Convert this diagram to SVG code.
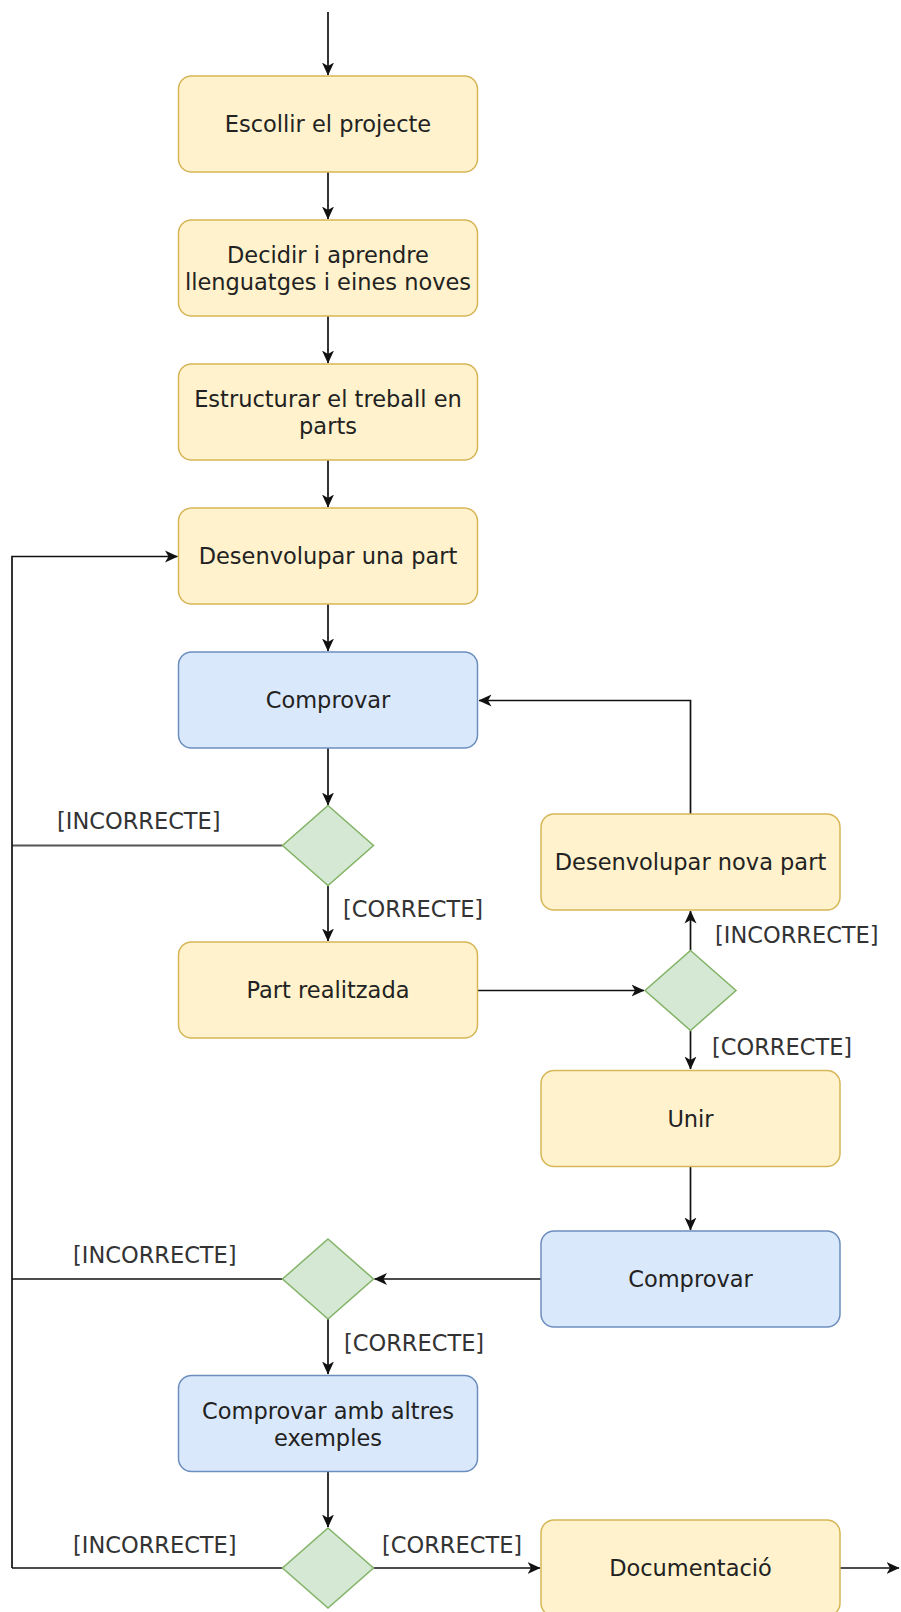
<svg xmlns="http://www.w3.org/2000/svg" width="901" height="1612" viewBox="0 0 901 1612">
<style>
.y{fill:#fff2cc;stroke:#d6b656;stroke-width:1.5}
.b{fill:#dae8fc;stroke:#6c8ebf;stroke-width:1.5}
.g{fill:#d5e8d4;stroke:#82b366;stroke-width:1.5}
.t{font-family:"DejaVu Sans",Verdana,sans-serif;font-size:22.5px;fill:#222;text-anchor:middle}
.l{font-family:"DejaVu Sans",Verdana,sans-serif;font-size:22.5px;fill:#333}
.c{fill:none;stroke:#111;stroke-width:1.7}
.c2{fill:none;stroke:#555;stroke-width:1.9}
</style>
<defs>
<marker id="a" viewBox="0 0 13 13" refX="12.5" refY="6.5" markerWidth="13" markerHeight="13" markerUnits="userSpaceOnUse" orient="auto">
<path d="M0,0.5 L13,6.5 L0,12.5 L3.5,6.5 Z" fill="#111"/>
</marker>
</defs>
<g id="connectors">
<path class="c" d="M328,12 V75" marker-end="url(#a)"/>
<path class="c" d="M328,172 V219" marker-end="url(#a)"/>
<path class="c" d="M328,316 V363" marker-end="url(#a)"/>
<path class="c" d="M328,460 V507" marker-end="url(#a)"/>
<path class="c" d="M328,604 V651" marker-end="url(#a)"/>
<path class="c" d="M328,748 V805" marker-end="url(#a)"/>
<path class="c2" d="M282.5,845.5 H12"/>
<path class="c" d="M12,1568 V556.5 H177.5" marker-end="url(#a)"/>
<path class="c" d="M328,885.5 V941" marker-end="url(#a)"/>
<path class="c" d="M477.5,990.5 H644" marker-end="url(#a)"/>
<path class="c" d="M690.5,950.5 V911" marker-end="url(#a)"/>
<path class="c" d="M690.5,814 V700.5 H479" marker-end="url(#a)"/>
<path class="c" d="M690.5,1030.5 V1069" marker-end="url(#a)"/>
<path class="c" d="M690.5,1166.5 V1230" marker-end="url(#a)"/>
<path class="c" d="M541,1279 H374.5" marker-end="url(#a)"/>
<path class="c" d="M282.5,1279 H12"/>
<path class="c" d="M328,1319 V1374" marker-end="url(#a)"/>
<path class="c" d="M328,1471.5 V1527" marker-end="url(#a)"/>
<path class="c" d="M282.5,1568 H12"/>
<path class="c" d="M373.5,1568 H540" marker-end="url(#a)"/>
<path class="c" d="M840,1568 H899" marker-end="url(#a)"/>
</g>
<g id="labels">
<text class="l" x="57" y="829">[INCORRECTE]</text>
<text class="l" x="343" y="917">[CORRECTE]</text>
<text class="l" x="715" y="943">[INCORRECTE]</text>
<text class="l" x="712" y="1055">[CORRECTE]</text>
<text class="l" x="73" y="1263">[INCORRECTE]</text>
<text class="l" x="344" y="1351">[CORRECTE]</text>
<text class="l" x="73" y="1553">[INCORRECTE]</text>
<text class="l" x="382" y="1553">[CORRECTE]</text>
</g>
<g id="n1"><rect class="y" x="178.5" y="76" width="299" height="96" rx="13"/><text class="t" x="328" y="132">Escollir el projecte</text></g>
<g id="n2"><rect class="y" x="178.5" y="220" width="299" height="96" rx="13"/><text class="t" x="328" y="263">Decidir i aprendre</text><text class="t" x="328" y="290">llenguatges i eines noves</text></g>
<g id="n3"><rect class="y" x="178.5" y="364" width="299" height="96" rx="13"/><text class="t" x="328" y="407">Estructurar el treball en</text><text class="t" x="328" y="434">parts</text></g>
<g id="n4"><rect class="y" x="178.5" y="508" width="299" height="96" rx="13"/><text class="t" x="328" y="564">Desenvolupar una part</text></g>
<g id="n5"><rect class="b" x="178.5" y="652" width="299" height="96" rx="13"/><text class="t" x="328" y="708">Comprovar</text></g>
<g id="d1"><polygon class="g" points="328,805.5 373.5,845.5 328,885.5 282.5,845.5"/></g>
<g id="n6"><rect class="y" x="178.5" y="942" width="299" height="96" rx="13"/><text class="t" x="328" y="998">Part realitzada</text></g>
<g id="n7"><rect class="y" x="541" y="814" width="299" height="96" rx="13"/><text class="t" x="690.5" y="870">Desenvolupar nova part</text></g>
<g id="d2"><polygon class="g" points="690.5,950.5 736,990.5 690.5,1030.5 645,990.5"/></g>
<g id="n8"><rect class="y" x="541" y="1070.5" width="299" height="96" rx="13"/><text class="t" x="690.5" y="1126.5">Unir</text></g>
<g id="n9"><rect class="b" x="541" y="1231" width="299" height="96" rx="13"/><text class="t" x="690.5" y="1287">Comprovar</text></g>
<g id="d3"><polygon class="g" points="328,1239 373.5,1279 328,1319 282.5,1279"/></g>
<g id="n10"><rect class="b" x="178.5" y="1375.5" width="299" height="96" rx="13"/><text class="t" x="328" y="1418.5">Comprovar amb altres</text><text class="t" x="328" y="1445.5">exemples</text></g>
<g id="d4"><polygon class="g" points="328,1528 373.5,1568 328,1608 282.5,1568"/></g>
<g id="n11"><rect class="y" x="541" y="1520" width="299" height="96" rx="13"/><text class="t" x="690.5" y="1576">Documentació</text></g>
</svg>
